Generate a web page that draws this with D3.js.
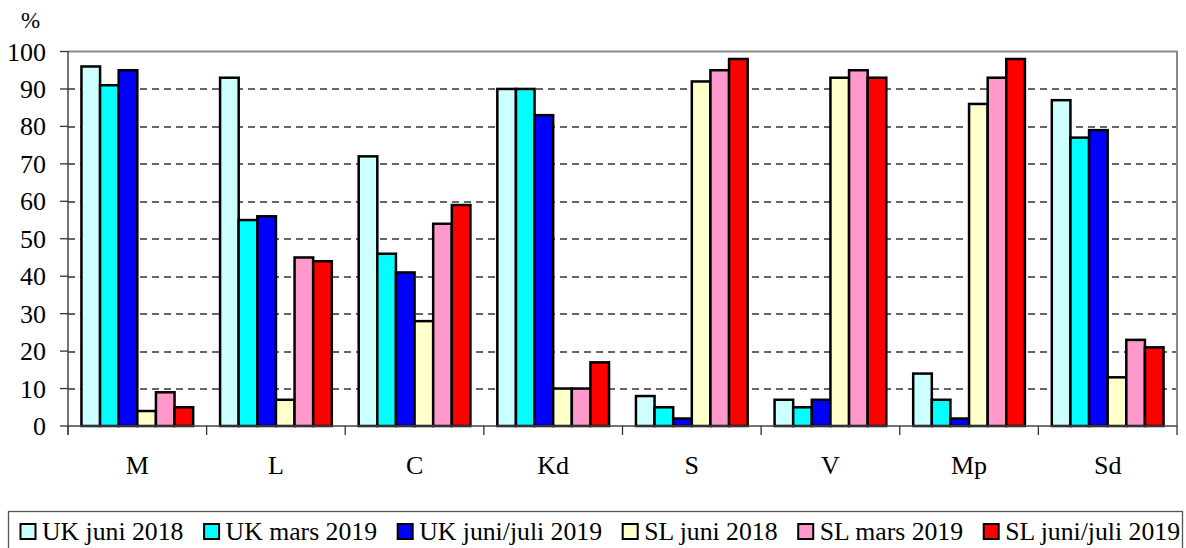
<!DOCTYPE html>
<html>
<head>
<meta charset="utf-8">
<script src="https://cdn.jsdelivr.net/npm/d3@7"></script>
<style>
  body { margin: 0; background: #fff; }
</style>
</head>
<body>
<svg id="chart" width="1186" height="548"></svg>
<script>
// categories and series
var categories = ['M', 'L', 'C', 'Kd', 'S', 'V', 'Mp', 'Sd'];
var seriesNames = ['UK juni 2018', 'UK mars 2019', 'UK juni/juli 2019',
  'SL juni 2018', 'SL mars 2019', 'SL juni/juli 2019'];
var seriesColors = ['#ccffff', '#00ffff', '#0000ff', '#ffffcc', '#ff99cc', '#ff0000'];

var ukJuni2018 = [96, 93, 72, 90, 8, 7, 14, 87];
var ukMars2019 = [91, 55, 46, 90, 5, 5, 7, 77];
var ukJuniJuli2019 = [95, 56, 41, 83, 2, 7, 2, 79];
var slJuni2018 = [4, 7, 28, 10, 92, 93, 86, 13];
var slMars2019 = [9, 45, 54, 10, 95, 95, 93, 23];
var slJuniJuli2019 = [5, 44, 59, 17, 98, 93, 98, 21];

var yTicks = [0, 10, 20, 30, 40, 50, 60, 70, 80, 90, 100];

var seriesValues = [ukJuni2018, ukMars2019, ukJuniJuli2019, slJuni2018, slMars2019, slJuniJuli2019];

var FONT = 'Liberation Serif';

var svg = d3.select('#chart');
var margin = { left: 68, right: 9, top: 51.5, bottom: 122 };
var width = 1186 - margin.left - margin.right;
var height = 548 - margin.top - margin.bottom;

var g = svg.append('g')
  .attr('transform', 'translate(' + margin.left + ',' + margin.top + ')');

var x0 = d3.scaleBand().domain(categories).range([0, width]).paddingInner(0.194).paddingOuter(0.097);
var x1 = d3.scaleBand().domain(d3.range(seriesNames.length)).range([0, x0.bandwidth()]);
var xCat = d3.scaleBand().domain(categories).range([0, width]);
var y = d3.scaleLinear().domain([0, 100]).range([height, 0]);

// dashed grid
g.selectAll('.grid')
  .data(yTicks.filter(function (t) { return t > 0 && t < 100; }))
  .enter().append('line')
  .attr('class', 'grid')
  .attr('x1', 0).attr('x2', width)
  .attr('y1', function (d) { return Math.round(y(d)) + 0.5; })
  .attr('y2', function (d) { return Math.round(y(d)) + 0.5; })
  .attr('stroke', '#333')
  .attr('stroke-width', 1.3)
  .attr('stroke-dasharray', '7,5');

// plot border top/right
g.append('path')
  .attr('d', 'M0,0H' + width + 'V' + height)
  .attr('fill', 'none')
  .attr('stroke', '#888')
  .attr('stroke-width', 2);

// bars
var groups = g.selectAll('.group')
  .data(categories)
  .enter().append('g')
  .attr('class', 'group')
  .attr('transform', function (c) { return 'translate(' + x0(c) + ',0)'; });

groups.selectAll('rect')
  .data(function (c, ci) {
    return seriesValues.map(function (vals, si) { return { s: si, v: vals[ci] }; });
  })
  .enter().append('rect')
  .attr('x', function (d) { return x1(d.s); })
  .attr('width', x1.bandwidth())
  .attr('y', function (d) { return y(d.v); })
  .attr('height', function (d) { return height - y(d.v); })
  .attr('fill', function (d) { return seriesColors[d.s]; })
  .attr('stroke', '#000')
  .attr('stroke-width', 2.5);

// x axis line and ticks between categories
g.append('line')
  .attr('x1', 0).attr('x2', width)
  .attr('y1', height).attr('y2', height)
  .attr('stroke', '#444').attr('stroke-width', 1.5);

g.selectAll('.xtick')
  .data(d3.range(categories.length + 1))
  .enter().append('line')
  .attr('x1', function (i) { return i * xCat.step(); })
  .attr('x2', function (i) { return i * xCat.step(); })
  .attr('y1', height).attr('y2', height + 9)
  .attr('stroke', '#333').attr('stroke-width', 1.3);

g.selectAll('.xlabel')
  .data(categories)
  .enter().append('text')
  .attr('x', function (c) { return xCat(c) + xCat.bandwidth() / 2; })
  .attr('y', height + 48)
  .attr('text-anchor', 'middle')
  .attr('font-family', FONT)
  .attr('font-size', 26)
  .text(function (c) { return c; });

// y axis
g.append('line')
  .attr('x1', 0).attr('x2', 0)
  .attr('y1', 0).attr('y2', height + 9)
  .attr('stroke', '#444').attr('stroke-width', 1.5);

g.selectAll('.ytick')
  .data(yTicks)
  .enter().append('line')
  .attr('x1', -8).attr('x2', 0)
  .attr('y1', function (d) { return y(d); })
  .attr('y2', function (d) { return y(d); })
  .attr('stroke', '#333').attr('stroke-width', 1.3);

g.selectAll('.ylabel')
  .data(yTicks)
  .enter().append('text')
  .attr('x', -22)
  .attr('y', function (d) { return y(d) + 9; })
  .attr('text-anchor', 'end')
  .attr('font-family', FONT)
  .attr('font-size', 26)
  .text(function (d) { return d; });

svg.append('text')
  .attr('x', 21).attr('y', 28)
  .attr('font-family', FONT)
  .attr('font-size', 23)
  .text('%');

// legend
var legend = svg.append('g');
legend.append('rect')
  .attr('x', 8.5).attr('y', 511.5)
  .attr('width', 1174).attr('height', 50)
  .attr('fill', '#fff')
  .attr('stroke', '#555')
  .attr('stroke-width', 1.3);

var item = legend.selectAll('.item')
  .data(seriesNames)
  .enter().append('g')
  .attr('class', 'item');

item.append('rect')
  .attr('x', 0).attr('y', 0)
  .attr('width', 15).attr('height', 15)
  .attr('fill', function (d, i) { return seriesColors[i]; })
  .attr('stroke', '#000')
  .attr('stroke-width', 2);

var textScale = 1.05;
var labels = item.append('text')
  .attr('transform', 'translate(21.5,16) scale(' + textScale + ',1)')
  .attr('font-family', FONT)
  .attr('font-size', 24.5)
  .text(function (d) { return d; });

// spread the items between the first square and the right end of the box
var widths = labels.nodes().map(function (n) { return n.getComputedTextLength() * textScale + 21.5; });
var startX = 20.5, endX = 1180;
var gap = (endX - startX - d3.sum(widths)) / (widths.length - 1);
var pos = startX;
item.attr('transform', function (d, i) {
  var t = 'translate(' + pos + ',524)';
  pos += widths[i] + gap;
  return t;
});
</script>
</body>
</html>
